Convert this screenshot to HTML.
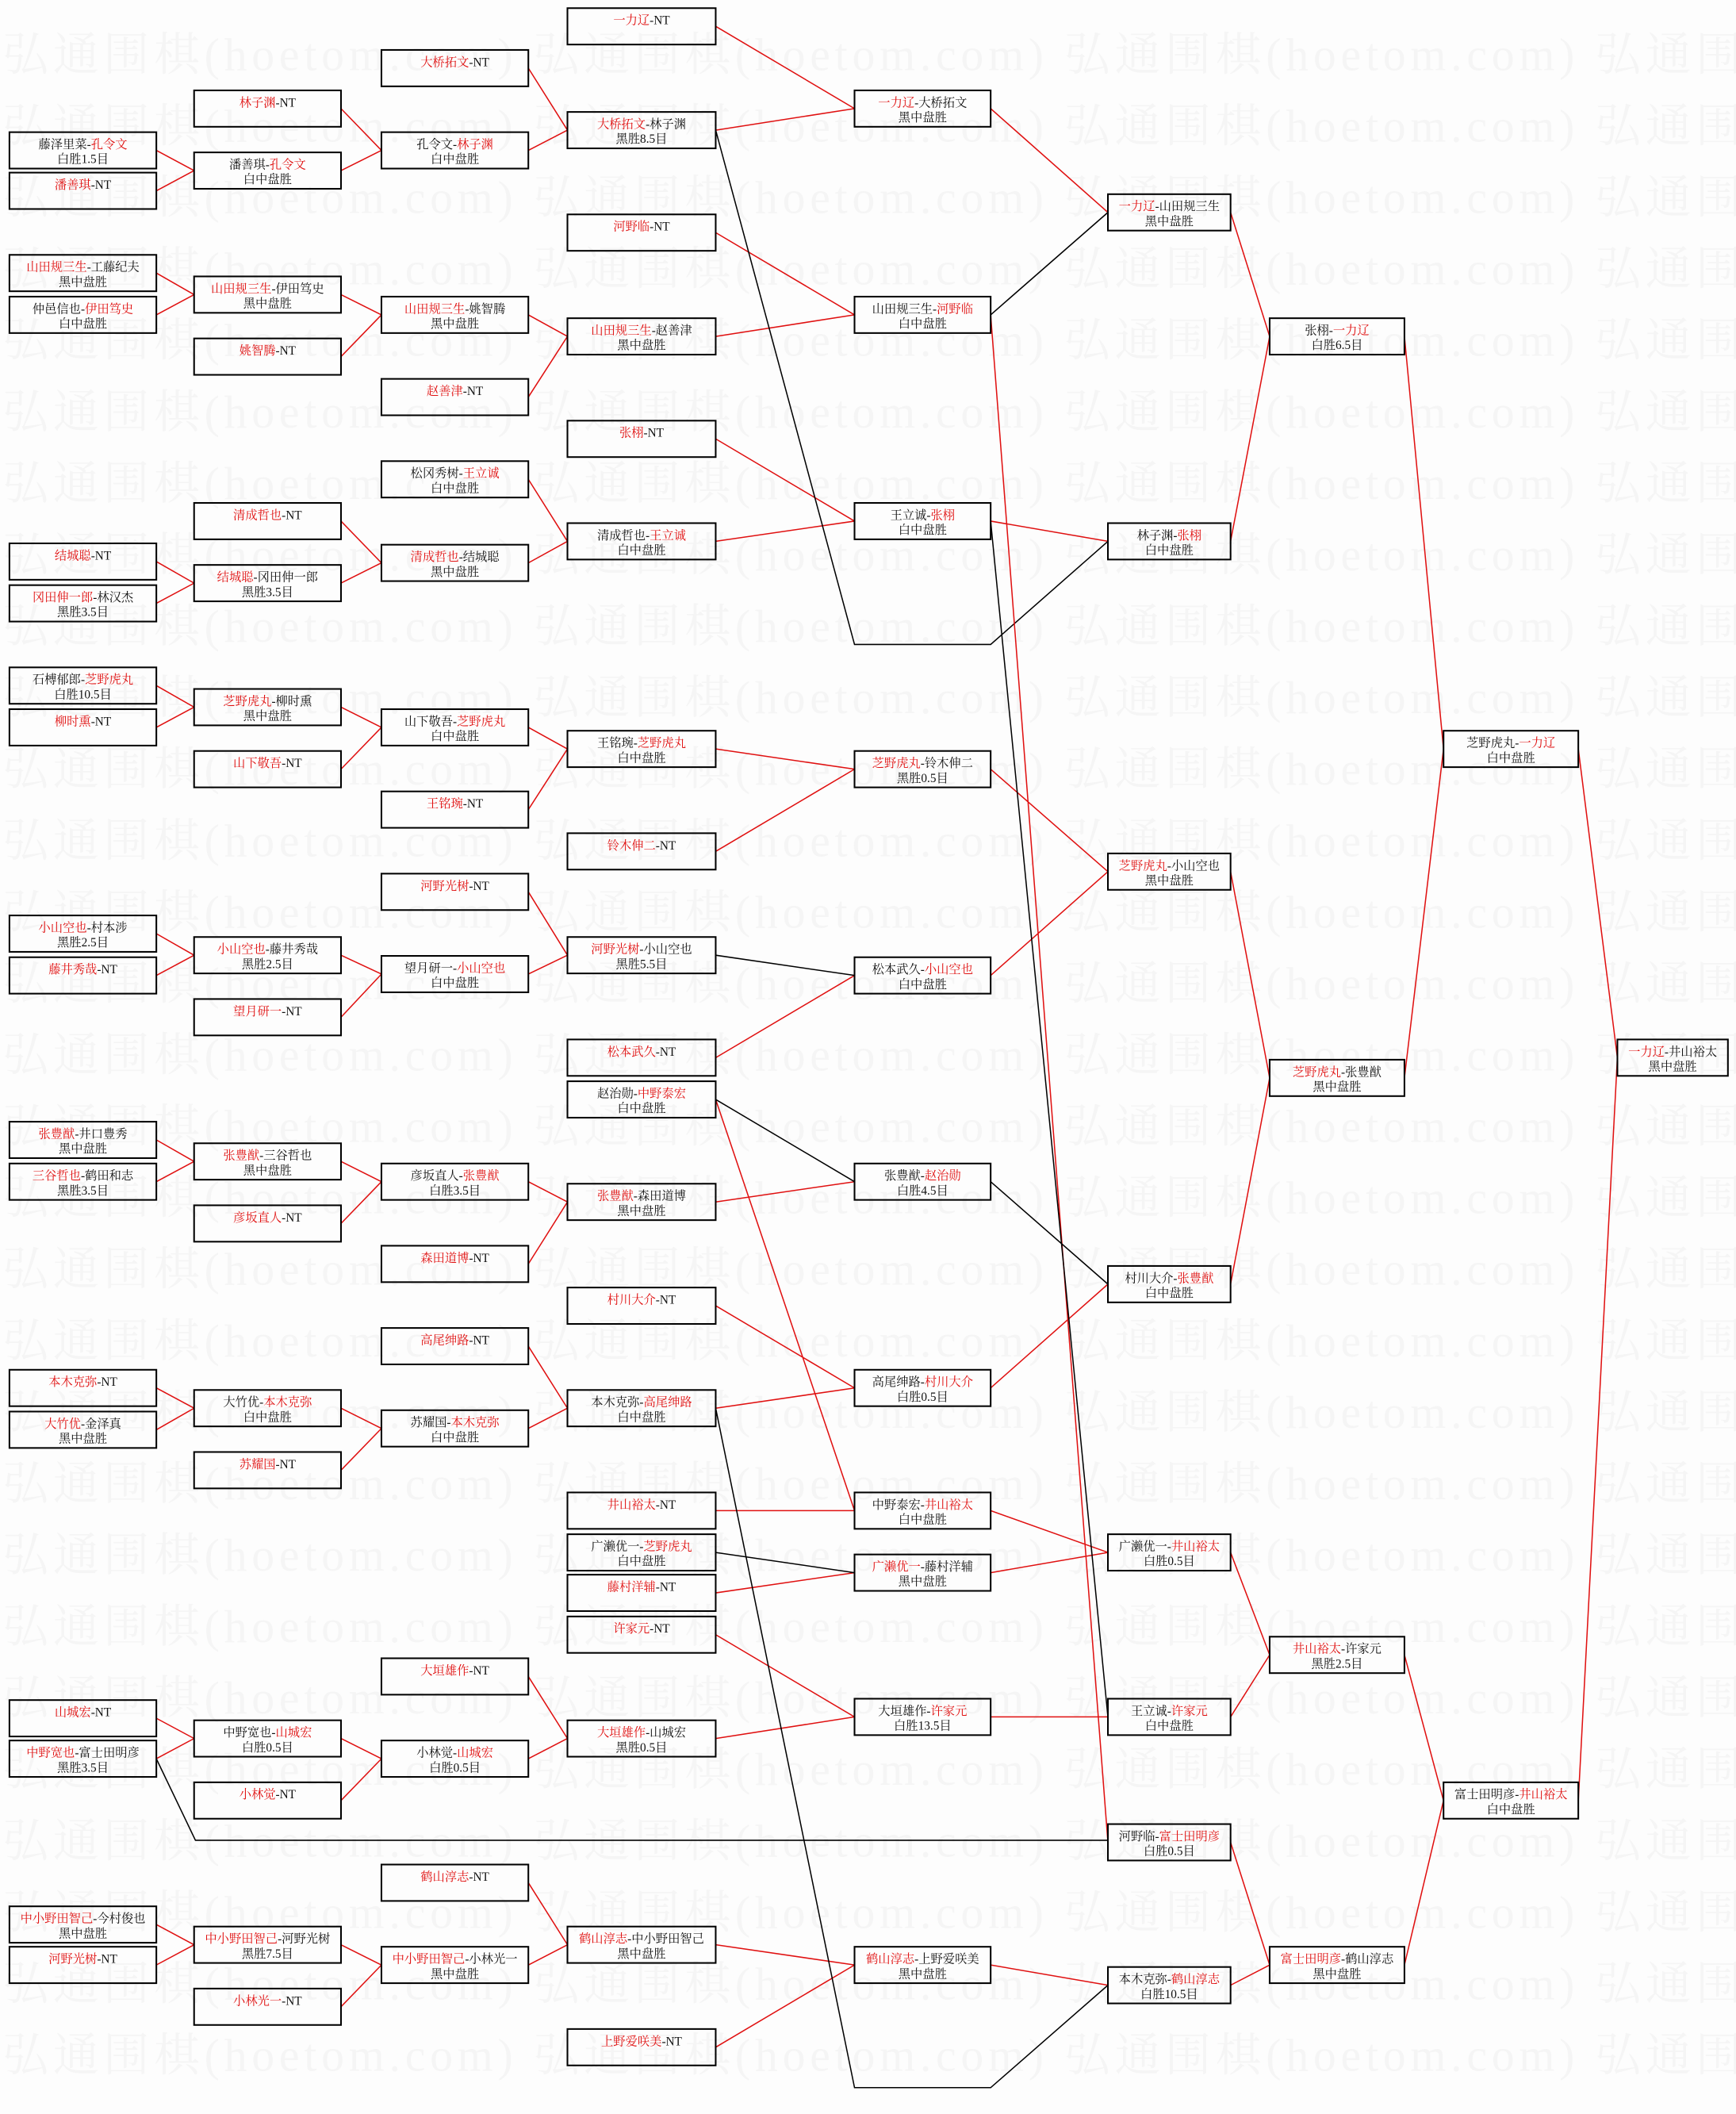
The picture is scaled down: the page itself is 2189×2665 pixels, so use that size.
<!DOCTYPE html>
<html><head><meta charset="utf-8"><style>
html,body{margin:0;padding:0;background:#fdfdfd;}
svg{display:block;}
text{font-family:"Liberation Serif","Noto Serif CJK SC","Noto Sans CJK SC",serif;font-size:9px;text-anchor:middle;fill:#111;}
.r{fill:#e01010;}
.wm{font-size:34px;fill:#f5f5f5;text-anchor:start;font-family:"Liberation Serif","Noto Serif CJK SC",serif;}
rect{fill:none;stroke:#000;stroke-width:1.2;}
.lr{stroke:#e01010;stroke-width:0.9;fill:none;}
.lb{stroke:#000;stroke-width:0.9;fill:none;}
</style></head><body>
<svg width="2189" height="2665" viewBox="0 0 1288 1568" xmlns="http://www.w3.org/2000/svg">
<g>
<text class="wm" x="2" y="52" textLength="1560">弘通围棋(hoetom.com) 弘通围棋(hoetom.com) 弘通围棋(hoetom.com) 弘通围棋(hoetom.com)</text>
<text class="wm" x="2" y="105" textLength="1560">弘通围棋(hoetom.com) 弘通围棋(hoetom.com) 弘通围棋(hoetom.com) 弘通围棋(hoetom.com)</text>
<text class="wm" x="2" y="158" textLength="1560">弘通围棋(hoetom.com) 弘通围棋(hoetom.com) 弘通围棋(hoetom.com) 弘通围棋(hoetom.com)</text>
<text class="wm" x="2" y="211" textLength="1560">弘通围棋(hoetom.com) 弘通围棋(hoetom.com) 弘通围棋(hoetom.com) 弘通围棋(hoetom.com)</text>
<text class="wm" x="2" y="264" textLength="1560">弘通围棋(hoetom.com) 弘通围棋(hoetom.com) 弘通围棋(hoetom.com) 弘通围棋(hoetom.com)</text>
<text class="wm" x="2" y="317" textLength="1560">弘通围棋(hoetom.com) 弘通围棋(hoetom.com) 弘通围棋(hoetom.com) 弘通围棋(hoetom.com)</text>
<text class="wm" x="2" y="370" textLength="1560">弘通围棋(hoetom.com) 弘通围棋(hoetom.com) 弘通围棋(hoetom.com) 弘通围棋(hoetom.com)</text>
<text class="wm" x="2" y="423" textLength="1560">弘通围棋(hoetom.com) 弘通围棋(hoetom.com) 弘通围棋(hoetom.com) 弘通围棋(hoetom.com)</text>
<text class="wm" x="2" y="476" textLength="1560">弘通围棋(hoetom.com) 弘通围棋(hoetom.com) 弘通围棋(hoetom.com) 弘通围棋(hoetom.com)</text>
<text class="wm" x="2" y="529" textLength="1560">弘通围棋(hoetom.com) 弘通围棋(hoetom.com) 弘通围棋(hoetom.com) 弘通围棋(hoetom.com)</text>
<text class="wm" x="2" y="582" textLength="1560">弘通围棋(hoetom.com) 弘通围棋(hoetom.com) 弘通围棋(hoetom.com) 弘通围棋(hoetom.com)</text>
<text class="wm" x="2" y="635" textLength="1560">弘通围棋(hoetom.com) 弘通围棋(hoetom.com) 弘通围棋(hoetom.com) 弘通围棋(hoetom.com)</text>
<text class="wm" x="2" y="688" textLength="1560">弘通围棋(hoetom.com) 弘通围棋(hoetom.com) 弘通围棋(hoetom.com) 弘通围棋(hoetom.com)</text>
<text class="wm" x="2" y="741" textLength="1560">弘通围棋(hoetom.com) 弘通围棋(hoetom.com) 弘通围棋(hoetom.com) 弘通围棋(hoetom.com)</text>
<text class="wm" x="2" y="794" textLength="1560">弘通围棋(hoetom.com) 弘通围棋(hoetom.com) 弘通围棋(hoetom.com) 弘通围棋(hoetom.com)</text>
<text class="wm" x="2" y="847" textLength="1560">弘通围棋(hoetom.com) 弘通围棋(hoetom.com) 弘通围棋(hoetom.com) 弘通围棋(hoetom.com)</text>
<text class="wm" x="2" y="900" textLength="1560">弘通围棋(hoetom.com) 弘通围棋(hoetom.com) 弘通围棋(hoetom.com) 弘通围棋(hoetom.com)</text>
<text class="wm" x="2" y="953" textLength="1560">弘通围棋(hoetom.com) 弘通围棋(hoetom.com) 弘通围棋(hoetom.com) 弘通围棋(hoetom.com)</text>
<text class="wm" x="2" y="1006" textLength="1560">弘通围棋(hoetom.com) 弘通围棋(hoetom.com) 弘通围棋(hoetom.com) 弘通围棋(hoetom.com)</text>
<text class="wm" x="2" y="1059" textLength="1560">弘通围棋(hoetom.com) 弘通围棋(hoetom.com) 弘通围棋(hoetom.com) 弘通围棋(hoetom.com)</text>
<text class="wm" x="2" y="1112" textLength="1560">弘通围棋(hoetom.com) 弘通围棋(hoetom.com) 弘通围棋(hoetom.com) 弘通围棋(hoetom.com)</text>
<text class="wm" x="2" y="1165" textLength="1560">弘通围棋(hoetom.com) 弘通围棋(hoetom.com) 弘通围棋(hoetom.com) 弘通围棋(hoetom.com)</text>
<text class="wm" x="2" y="1218" textLength="1560">弘通围棋(hoetom.com) 弘通围棋(hoetom.com) 弘通围棋(hoetom.com) 弘通围棋(hoetom.com)</text>
<text class="wm" x="2" y="1271" textLength="1560">弘通围棋(hoetom.com) 弘通围棋(hoetom.com) 弘通围棋(hoetom.com) 弘通围棋(hoetom.com)</text>
<text class="wm" x="2" y="1324" textLength="1560">弘通围棋(hoetom.com) 弘通围棋(hoetom.com) 弘通围棋(hoetom.com) 弘通围棋(hoetom.com)</text>
<text class="wm" x="2" y="1377" textLength="1560">弘通围棋(hoetom.com) 弘通围棋(hoetom.com) 弘通围棋(hoetom.com) 弘通围棋(hoetom.com)</text>
<text class="wm" x="2" y="1430" textLength="1560">弘通围棋(hoetom.com) 弘通围棋(hoetom.com) 弘通围棋(hoetom.com) 弘通围棋(hoetom.com)</text>
<text class="wm" x="2" y="1483" textLength="1560">弘通围棋(hoetom.com) 弘通围棋(hoetom.com) 弘通围棋(hoetom.com) 弘通围棋(hoetom.com)</text>
<text class="wm" x="2" y="1536" textLength="1560">弘通围棋(hoetom.com) 弘通围棋(hoetom.com) 弘通围棋(hoetom.com) 弘通围棋(hoetom.com)</text>
</g>

<g>
<path class="lr" d="M116 111.5L144 126.5M116 141.5L144 126.5M116 202.5L144 218.5M116 233.5L144 218.5M116 416.5L144 432.5M116 447.5L144 432.5M116 508.5L144 524.5M116 539.5L144 524.5M116 692.5L144 708.5M116 723.5L144 708.5M116 845.5L144 861.5M116 876.5L144 861.5M116 1029.5L144 1044.5M116 1060.5L144 1044.5M116 1274.5L144 1289.5M116 1304.5L144 1289.5M116 1427.5L144 1442.5M116 1457.5L144 1442.5"/>
<path class="lb" d="M116 1304.5L145 1365L822 1365"/>
<path class="lr" d="M253 80.5L283 111.5M253 126.5L283 111.5M253 218.5L283 233.5M253 264.5L283 233.5M253 386.5L283 417.5M253 432.5L283 417.5M253 524.5L283 539.5M253 570.5L283 539.5M253 708.5L283 722.5M253 754.5L283 722.5M253 861.5L283 876.5M253 907.5L283 876.5M253 1044.5L283 1059.5M253 1090.5L283 1059.5M253 1289.5L283 1304.5M253 1335.5L283 1304.5M253 1442.5L283 1457.5M253 1488.5L283 1457.5"/>
<path class="lr" d="M392 50.5L421 96.5M392 111.5L421 96.5M392 233.5L421 249.5M392 294.5L421 249.5M392 355.5L421 401.5M392 417.5L421 401.5M392 539.5L421 555.5M392 600.5L421 555.5M392 661.5L421 708.5M392 722.5L421 708.5M392 876.5L421 891.5M392 937.5L421 891.5M392 998.5L421 1044.5M392 1059.5L421 1044.5M392 1243.5L421 1289.5M392 1304.5L421 1289.5M392 1396.5L421 1442.5M392 1457.5L421 1442.5"/>
<path class="lr" d="M531 19.5L634 80.5M531 96.5L634 80.5M531 172.5L634 233.5M531 249.5L634 233.5M531 325.5L634 386.5M531 401.5L634 386.5M531 555.5L634 570.5M531 631.5L634 570.5M531 784.5L634 723.5M531 891.5L634 876.5M531 968.5L634 1029.5M531 1044.5L634 1029.5M531 1120.5L634 1120.5M531 1181.5L634 1166.5M531 1212.5L634 1273.5M531 1289.5L634 1273.5M531 1442.5L634 1457.5M531 1518.5L634 1457.5M531 815.5L634 1120.5"/>
<path class="lb" d="M531 96.5L634 478L735 478L822 401.5M531 708.5L634 723.5M531 815.5L634 876.5M531 1044.5L634 1548.5L735 1548.5L822 1472.5M531 1151.5L634 1166.5"/>
<path class="lr" d="M735 80.5L822 157.5M735 386.5L822 401.5M735 570.5L822 646.5M735 723.5L822 646.5M735 1029.5L822 952.5M735 1120.5L822 1151.5M735 1166.5L822 1151.5M735 1273.5L822 1273.5M735 1457.5L822 1472.5M735 233.5L822 1366.5"/>
<path class="lb" d="M735 233.5L822 157.5M735 386.5L822 1273.5M735 876.5L822 952.5"/>
<path class="lr" d="M913 157.5L942 249.5M913 401.5L942 249.5M913 646.5L942 799.5M913 952.5L942 799.5M913 1151.5L942 1227.5M913 1273.5L942 1227.5M913 1366.5L942 1457.5M913 1472.5L942 1457.5"/>
<path class="lr" d="M1042 249.5L1071 555.5M1042 799.5L1071 555.5M1042 1227.5L1071 1335.5M1042 1457.5L1071 1335.5"/>
<path class="lr" d="M1171 555.5L1200 784.5M1171 1335.5L1200 784.5"/>
</g>

<g>
<rect x="7" y="98" width="109" height="27"/><text x="61.5" y="110">藤泽里菜-<tspan class="r">孔令文</tspan></text><text x="61.5" y="121">白胜1.5目</text>
<rect x="7" y="128" width="109" height="27"/><text x="61.5" y="140"><tspan class="r">潘善琪</tspan>-NT</text>
<rect x="7" y="189" width="109" height="27"/><text x="61.5" y="201"><tspan class="r">山田规三生</tspan>-工藤纪夫</text><text x="61.5" y="212">黑中盘胜</text>
<rect x="7" y="220" width="109" height="27"/><text x="61.5" y="232">仲邑信也-<tspan class="r">伊田笃史</tspan></text><text x="61.5" y="243">白中盘胜</text>
<rect x="7" y="403" width="109" height="27"/><text x="61.5" y="415"><tspan class="r">结城聪</tspan>-NT</text>
<rect x="7" y="434" width="109" height="27"/><text x="61.5" y="446"><tspan class="r">冈田伸一郎</tspan>-林汉杰</text><text x="61.5" y="457">黑胜3.5目</text>
<rect x="7" y="495" width="109" height="27"/><text x="61.5" y="507">石榑郁郎-<tspan class="r">芝野虎丸</tspan></text><text x="61.5" y="518">白胜10.5目</text>
<rect x="7" y="526" width="109" height="27"/><text x="61.5" y="538"><tspan class="r">柳时熏</tspan>-NT</text>
<rect x="7" y="679" width="109" height="27"/><text x="61.5" y="691"><tspan class="r">小山空也</tspan>-村本涉</text><text x="61.5" y="702">黑胜2.5目</text>
<rect x="7" y="710" width="109" height="27"/><text x="61.5" y="722"><tspan class="r">藤井秀哉</tspan>-NT</text>
<rect x="7" y="832" width="109" height="27"/><text x="61.5" y="844"><tspan class="r">张豊猷</tspan>-井口豊秀</text><text x="61.5" y="855">黑中盘胜</text>
<rect x="7" y="863" width="109" height="27"/><text x="61.5" y="875"><tspan class="r">三谷哲也</tspan>-鹤田和志</text><text x="61.5" y="886">黑胜3.5目</text>
<rect x="7" y="1016" width="109" height="27"/><text x="61.5" y="1028"><tspan class="r">本木克弥</tspan>-NT</text>
<rect x="7" y="1047" width="109" height="27"/><text x="61.5" y="1059"><tspan class="r">大竹优</tspan>-金泽真</text><text x="61.5" y="1070">黑中盘胜</text>
<rect x="7" y="1261" width="109" height="27"/><text x="61.5" y="1273"><tspan class="r">山城宏</tspan>-NT</text>
<rect x="7" y="1291" width="109" height="27"/><text x="61.5" y="1303"><tspan class="r">中野宽也</tspan>-富士田明彦</text><text x="61.5" y="1314">黑胜3.5目</text>
<rect x="7" y="1414" width="109" height="27"/><text x="61.5" y="1426"><tspan class="r">中小野田智己</tspan>-今村俊也</text><text x="61.5" y="1437">黑中盘胜</text>
<rect x="7" y="1444" width="109" height="27"/><text x="61.5" y="1456"><tspan class="r">河野光树</tspan>-NT</text>
</g>

<g>
<rect x="144" y="67" width="109" height="27"/><text x="198.5" y="79"><tspan class="r">林子渊</tspan>-NT</text>
<rect x="144" y="113" width="109" height="27"/><text x="198.5" y="125">潘善琪-<tspan class="r">孔令文</tspan></text><text x="198.5" y="136">白中盘胜</text>
<rect x="144" y="205" width="109" height="27"/><text x="198.5" y="217"><tspan class="r">山田规三生</tspan>-伊田笃史</text><text x="198.5" y="228">黑中盘胜</text>
<rect x="144" y="251" width="109" height="27"/><text x="198.5" y="263"><tspan class="r">姚智腾</tspan>-NT</text>
<rect x="144" y="373" width="109" height="27"/><text x="198.5" y="385"><tspan class="r">清成哲也</tspan>-NT</text>
<rect x="144" y="419" width="109" height="27"/><text x="198.5" y="431"><tspan class="r">结城聪</tspan>-冈田伸一郎</text><text x="198.5" y="442">黑胜3.5目</text>
<rect x="144" y="511" width="109" height="27"/><text x="198.5" y="523"><tspan class="r">芝野虎丸</tspan>-柳时熏</text><text x="198.5" y="534">黑中盘胜</text>
<rect x="144" y="557" width="109" height="27"/><text x="198.5" y="569"><tspan class="r">山下敬吾</tspan>-NT</text>
<rect x="144" y="695" width="109" height="27"/><text x="198.5" y="707"><tspan class="r">小山空也</tspan>-藤井秀哉</text><text x="198.5" y="718">黑胜2.5目</text>
<rect x="144" y="741" width="109" height="27"/><text x="198.5" y="753"><tspan class="r">望月研一</tspan>-NT</text>
<rect x="144" y="848" width="109" height="27"/><text x="198.5" y="860"><tspan class="r">张豊猷</tspan>-三谷哲也</text><text x="198.5" y="871">黑中盘胜</text>
<rect x="144" y="894" width="109" height="27"/><text x="198.5" y="906"><tspan class="r">彦坂直人</tspan>-NT</text>
<rect x="144" y="1031" width="109" height="27"/><text x="198.5" y="1043">大竹优-<tspan class="r">本木克弥</tspan></text><text x="198.5" y="1054">白中盘胜</text>
<rect x="144" y="1077" width="109" height="27"/><text x="198.5" y="1089"><tspan class="r">苏耀国</tspan>-NT</text>
<rect x="144" y="1276" width="109" height="27"/><text x="198.5" y="1288">中野宽也-<tspan class="r">山城宏</tspan></text><text x="198.5" y="1299">白胜0.5目</text>
<rect x="144" y="1322" width="109" height="27"/><text x="198.5" y="1334"><tspan class="r">小林觉</tspan>-NT</text>
<rect x="144" y="1429" width="109" height="27"/><text x="198.5" y="1441"><tspan class="r">中小野田智己</tspan>-河野光树</text><text x="198.5" y="1452">黑胜7.5目</text>
<rect x="144" y="1475" width="109" height="27"/><text x="198.5" y="1487"><tspan class="r">小林光一</tspan>-NT</text>
</g>

<g>
<rect x="283" y="37" width="109" height="27"/><text x="337.5" y="49"><tspan class="r">大桥拓文</tspan>-NT</text>
<rect x="283" y="98" width="109" height="27"/><text x="337.5" y="110">孔令文-<tspan class="r">林子渊</tspan></text><text x="337.5" y="121">白中盘胜</text>
<rect x="283" y="220" width="109" height="27"/><text x="337.5" y="232"><tspan class="r">山田规三生</tspan>-姚智腾</text><text x="337.5" y="243">黑中盘胜</text>
<rect x="283" y="281" width="109" height="27"/><text x="337.5" y="293"><tspan class="r">赵善津</tspan>-NT</text>
<rect x="283" y="342" width="109" height="27"/><text x="337.5" y="354">松冈秀树-<tspan class="r">王立诚</tspan></text><text x="337.5" y="365">白中盘胜</text>
<rect x="283" y="404" width="109" height="27"/><text x="337.5" y="416"><tspan class="r">清成哲也</tspan>-结城聪</text><text x="337.5" y="427">黑中盘胜</text>
<rect x="283" y="526" width="109" height="27"/><text x="337.5" y="538">山下敬吾-<tspan class="r">芝野虎丸</tspan></text><text x="337.5" y="549">白中盘胜</text>
<rect x="283" y="587" width="109" height="27"/><text x="337.5" y="599"><tspan class="r">王铭琬</tspan>-NT</text>
<rect x="283" y="648" width="109" height="27"/><text x="337.5" y="660"><tspan class="r">河野光树</tspan>-NT</text>
<rect x="283" y="709" width="109" height="27"/><text x="337.5" y="721">望月研一-<tspan class="r">小山空也</tspan></text><text x="337.5" y="732">白中盘胜</text>
<rect x="283" y="863" width="109" height="27"/><text x="337.5" y="875">彦坂直人-<tspan class="r">张豊猷</tspan></text><text x="337.5" y="886">白胜3.5目</text>
<rect x="283" y="924" width="109" height="27"/><text x="337.5" y="936"><tspan class="r">森田道博</tspan>-NT</text>
<rect x="283" y="985" width="109" height="27"/><text x="337.5" y="997"><tspan class="r">高尾绅路</tspan>-NT</text>
<rect x="283" y="1046" width="109" height="27"/><text x="337.5" y="1058">苏耀国-<tspan class="r">本木克弥</tspan></text><text x="337.5" y="1069">白中盘胜</text>
<rect x="283" y="1230" width="109" height="27"/><text x="337.5" y="1242"><tspan class="r">大垣雄作</tspan>-NT</text>
<rect x="283" y="1291" width="109" height="27"/><text x="337.5" y="1303">小林觉-<tspan class="r">山城宏</tspan></text><text x="337.5" y="1314">白胜0.5目</text>
<rect x="283" y="1383" width="109" height="27"/><text x="337.5" y="1395"><tspan class="r">鹤山淳志</tspan>-NT</text>
<rect x="283" y="1444" width="109" height="27"/><text x="337.5" y="1456"><tspan class="r">中小野田智己</tspan>-小林光一</text><text x="337.5" y="1467">黑中盘胜</text>
</g>

<g>
<rect x="421" y="6" width="110" height="27"/><text x="476" y="18"><tspan class="r">一力辽</tspan>-NT</text>
<rect x="421" y="83" width="110" height="27"/><text x="476" y="95"><tspan class="r">大桥拓文</tspan>-林子渊</text><text x="476" y="106">黑胜8.5目</text>
<rect x="421" y="159" width="110" height="27"/><text x="476" y="171"><tspan class="r">河野临</tspan>-NT</text>
<rect x="421" y="236" width="110" height="27"/><text x="476" y="248"><tspan class="r">山田规三生</tspan>-赵善津</text><text x="476" y="259">黑中盘胜</text>
<rect x="421" y="312" width="110" height="27"/><text x="476" y="324"><tspan class="r">张栩</tspan>-NT</text>
<rect x="421" y="388" width="110" height="27"/><text x="476" y="400">清成哲也-<tspan class="r">王立诚</tspan></text><text x="476" y="411">白中盘胜</text>
<rect x="421" y="542" width="110" height="27"/><text x="476" y="554">王铭琬-<tspan class="r">芝野虎丸</tspan></text><text x="476" y="565">白中盘胜</text>
<rect x="421" y="618" width="110" height="27"/><text x="476" y="630"><tspan class="r">铃木伸二</tspan>-NT</text>
<rect x="421" y="695" width="110" height="27"/><text x="476" y="707"><tspan class="r">河野光树</tspan>-小山空也</text><text x="476" y="718">黑胜5.5目</text>
<rect x="421" y="771" width="110" height="27"/><text x="476" y="783"><tspan class="r">松本武久</tspan>-NT</text>
<rect x="421" y="802" width="110" height="27"/><text x="476" y="814">赵治勋-<tspan class="r">中野泰宏</tspan></text><text x="476" y="825">白中盘胜</text>
<rect x="421" y="878" width="110" height="27"/><text x="476" y="890"><tspan class="r">张豊猷</tspan>-森田道博</text><text x="476" y="901">黑中盘胜</text>
<rect x="421" y="955" width="110" height="27"/><text x="476" y="967"><tspan class="r">村川大介</tspan>-NT</text>
<rect x="421" y="1031" width="110" height="27"/><text x="476" y="1043">本木克弥-<tspan class="r">高尾绅路</tspan></text><text x="476" y="1054">白中盘胜</text>
<rect x="421" y="1107" width="110" height="27"/><text x="476" y="1119"><tspan class="r">井山裕太</tspan>-NT</text>
<rect x="421" y="1138" width="110" height="27"/><text x="476" y="1150">广濑优一-<tspan class="r">芝野虎丸</tspan></text><text x="476" y="1161">白中盘胜</text>
<rect x="421" y="1168" width="110" height="27"/><text x="476" y="1180"><tspan class="r">藤村洋辅</tspan>-NT</text>
<rect x="421" y="1199" width="110" height="27"/><text x="476" y="1211"><tspan class="r">许家元</tspan>-NT</text>
<rect x="421" y="1276" width="110" height="27"/><text x="476" y="1288"><tspan class="r">大垣雄作</tspan>-山城宏</text><text x="476" y="1299">黑胜0.5目</text>
<rect x="421" y="1429" width="110" height="27"/><text x="476" y="1441"><tspan class="r">鹤山淳志</tspan>-中小野田智己</text><text x="476" y="1452">黑中盘胜</text>
<rect x="421" y="1505" width="110" height="27"/><text x="476" y="1517"><tspan class="r">上野爱咲美</tspan>-NT</text>
</g>

<g>
<rect x="634" y="67" width="101" height="27"/><text x="684.5" y="79"><tspan class="r">一力辽</tspan>-大桥拓文</text><text x="684.5" y="90">黑中盘胜</text>
<rect x="634" y="220" width="101" height="27"/><text x="684.5" y="232">山田规三生-<tspan class="r">河野临</tspan></text><text x="684.5" y="243">白中盘胜</text>
<rect x="634" y="373" width="101" height="27"/><text x="684.5" y="385">王立诚-<tspan class="r">张栩</tspan></text><text x="684.5" y="396">白中盘胜</text>
<rect x="634" y="557" width="101" height="27"/><text x="684.5" y="569"><tspan class="r">芝野虎丸</tspan>-铃木伸二</text><text x="684.5" y="580">黑胜0.5目</text>
<rect x="634" y="710" width="101" height="27"/><text x="684.5" y="722">松本武久-<tspan class="r">小山空也</tspan></text><text x="684.5" y="733">白中盘胜</text>
<rect x="634" y="863" width="101" height="27"/><text x="684.5" y="875">张豊猷-<tspan class="r">赵治勋</tspan></text><text x="684.5" y="886">白胜4.5目</text>
<rect x="634" y="1016" width="101" height="27"/><text x="684.5" y="1028">高尾绅路-<tspan class="r">村川大介</tspan></text><text x="684.5" y="1039">白胜0.5目</text>
<rect x="634" y="1107" width="101" height="27"/><text x="684.5" y="1119">中野泰宏-<tspan class="r">井山裕太</tspan></text><text x="684.5" y="1130">白中盘胜</text>
<rect x="634" y="1153" width="101" height="27"/><text x="684.5" y="1165"><tspan class="r">广濑优一</tspan>-藤村洋辅</text><text x="684.5" y="1176">黑中盘胜</text>
<rect x="634" y="1260" width="101" height="27"/><text x="684.5" y="1272">大垣雄作-<tspan class="r">许家元</tspan></text><text x="684.5" y="1283">白胜13.5目</text>
<rect x="634" y="1444" width="101" height="27"/><text x="684.5" y="1456"><tspan class="r">鹤山淳志</tspan>-上野爱咲美</text><text x="684.5" y="1467">黑中盘胜</text>
</g>

<g>
<rect x="822" y="144" width="91" height="27"/><text x="867.5" y="156"><tspan class="r">一力辽</tspan>-山田规三生</text><text x="867.5" y="167">黑中盘胜</text>
<rect x="822" y="388" width="91" height="27"/><text x="867.5" y="400">林子渊-<tspan class="r">张栩</tspan></text><text x="867.5" y="411">白中盘胜</text>
<rect x="822" y="633" width="91" height="27"/><text x="867.5" y="645"><tspan class="r">芝野虎丸</tspan>-小山空也</text><text x="867.5" y="656">黑中盘胜</text>
<rect x="822" y="939" width="91" height="27"/><text x="867.5" y="951">村川大介-<tspan class="r">张豊猷</tspan></text><text x="867.5" y="962">白中盘胜</text>
<rect x="822" y="1138" width="91" height="27"/><text x="867.5" y="1150">广濑优一-<tspan class="r">井山裕太</tspan></text><text x="867.5" y="1161">白胜0.5目</text>
<rect x="822" y="1260" width="91" height="27"/><text x="867.5" y="1272">王立诚-<tspan class="r">许家元</tspan></text><text x="867.5" y="1283">白中盘胜</text>
<rect x="822" y="1353" width="91" height="27"/><text x="867.5" y="1365">河野临-<tspan class="r">富士田明彦</tspan></text><text x="867.5" y="1376">白胜0.5目</text>
<rect x="822" y="1459" width="91" height="27"/><text x="867.5" y="1471">本木克弥-<tspan class="r">鹤山淳志</tspan></text><text x="867.5" y="1482">白胜10.5目</text>
</g>

<g>
<rect x="942" y="236" width="100" height="27"/><text x="992" y="248">张栩-<tspan class="r">一力辽</tspan></text><text x="992" y="259">白胜6.5目</text>
<rect x="942" y="786" width="100" height="27"/><text x="992" y="798"><tspan class="r">芝野虎丸</tspan>-张豊猷</text><text x="992" y="809">黑中盘胜</text>
<rect x="942" y="1214" width="100" height="27"/><text x="992" y="1226"><tspan class="r">井山裕太</tspan>-许家元</text><text x="992" y="1237">黑胜2.5目</text>
<rect x="942" y="1444" width="100" height="27"/><text x="992" y="1456"><tspan class="r">富士田明彦</tspan>-鹤山淳志</text><text x="992" y="1467">黑中盘胜</text>
</g>

<g>
<rect x="1071" y="542" width="100" height="27"/><text x="1121" y="554">芝野虎丸-<tspan class="r">一力辽</tspan></text><text x="1121" y="565">白中盘胜</text>
<rect x="1071" y="1322" width="100" height="27"/><text x="1121" y="1334">富士田明彦-<tspan class="r">井山裕太</tspan></text><text x="1121" y="1345">白中盘胜</text>
</g>

<g>
<rect x="1200" y="771" width="82" height="27"/><text x="1241" y="783"><tspan class="r">一力辽</tspan>-井山裕太</text><text x="1241" y="794">黑中盘胜</text>
</g>
</svg>
</body></html>
